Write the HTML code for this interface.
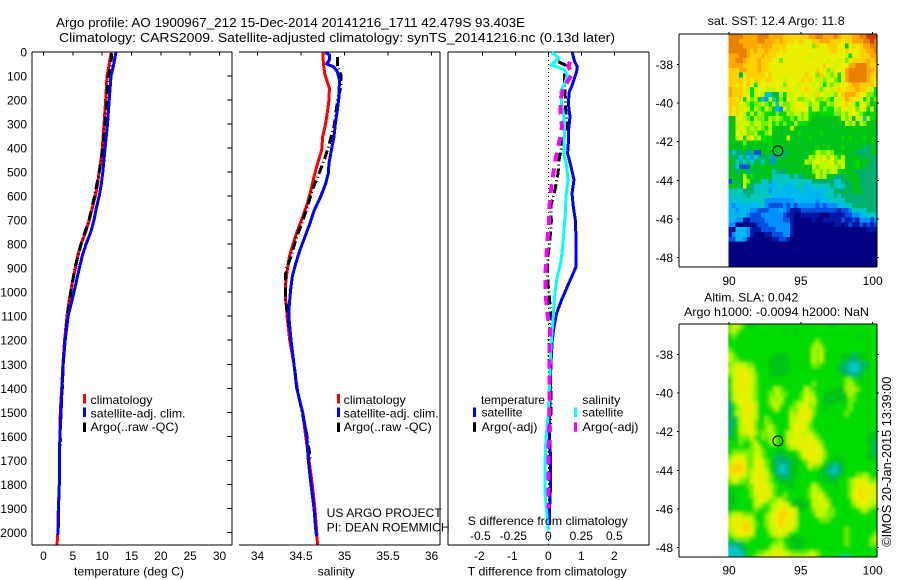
<!DOCTYPE html>
<html>
<head>
<meta charset="utf-8">
<title>Argo profile 1900967_212</title>
<style>
html,body{margin:0;padding:0;background:#fff;width:900px;height:580px;overflow:hidden}
svg{display:block}
text{font-family:"Liberation Sans",sans-serif;font-size:12px;fill:#000}
</style>
</head>
<body>
<svg id="chart" width="900" height="580" viewBox="0 0 900 580" xmlns="http://www.w3.org/2000/svg">
<defs>
<clipPath id="clipSst"><rect x="728.3" y="34" width="148.7" height="233"/></clipPath>
<clipPath id="clipSla"><rect x="728.3" y="324" width="148.7" height="233"/></clipPath>
<filter id="smoothSla" filterUnits="userSpaceOnUse" x="700" y="300" width="200" height="280"><feGaussianBlur stdDeviation="1.6"/></filter>
</defs>
<rect x="0" y="0" width="900" height="580" fill="#fff"/>
<text x="56" y="27" font-size="13" textLength="469" lengthAdjust="spacingAndGlyphs" style="font-size:13px">Argo profile: AO 1900967_212 15-Dec-2014 20141216_1711 42.479S 93.403E</text>
<text x="59" y="42" textLength="556" lengthAdjust="spacingAndGlyphs" style="font-size:13px">Climatology: CARS2009. Satellite-adjusted climatology: synTS_20141216.nc (0.13d later)</text>

<g id="panelTemp"></g>
<g id="panelSal"></g>
<g id="panelDiff"></g>
<g id="mapSst"></g>
<g id="mapSla"></g>

<g>
<rect x="83" y="394" width="3" height="9.5" fill="#f00"/>
<text x="90.5" y="404" textLength="62" lengthAdjust="spacingAndGlyphs">climatology</text>
<rect x="83" y="407.5" width="3" height="9.5" fill="#00f"/>
<text x="90.5" y="417.5" textLength="95" lengthAdjust="spacingAndGlyphs">satellite-adj. clim.</text>
<rect x="83" y="422.5" width="3" height="9.5" fill="#000"/>
<text x="90.5" y="431" textLength="88" lengthAdjust="spacingAndGlyphs">Argo(..raw -QC)</text>
</g>
<g>
<rect x="337" y="394" width="3" height="9.5" fill="#f00"/>
<text x="343.7" y="404" textLength="62" lengthAdjust="spacingAndGlyphs">climatology</text>
<rect x="337" y="407.5" width="3" height="9.5" fill="#00f"/>
<text x="343.7" y="417.5" textLength="95" lengthAdjust="spacingAndGlyphs">satellite-adj. clim.</text>
<rect x="337" y="422.5" width="3" height="9.5" fill="#000"/>
<text x="343.7" y="431" textLength="88" lengthAdjust="spacingAndGlyphs">Argo(..raw -QC)</text>
</g>
<text x="326.7" y="517" textLength="115" lengthAdjust="spacingAndGlyphs">US ARGO PROJECT</text>
<text x="326.7" y="531.7" textLength="123" lengthAdjust="spacingAndGlyphs">PI: DEAN ROEMMICH</text>

<g>
<text x="481" y="404" textLength="64" lengthAdjust="spacingAndGlyphs">temperature</text>
<rect x="473" y="407.5" width="3" height="9.5" fill="#00f"/>
<text x="481.5" y="416.7" textLength="41" lengthAdjust="spacingAndGlyphs">satellite</text>
<rect x="473" y="422.3" width="3" height="9.5" fill="#000"/>
<text x="481.5" y="431" textLength="56" lengthAdjust="spacingAndGlyphs">Argo(-adj)</text>
<text x="582.3" y="404" textLength="38" lengthAdjust="spacingAndGlyphs">salinity</text>
<rect x="574" y="407.5" width="3" height="9.5" fill="#0ff"/>
<text x="582.3" y="416.7" textLength="41" lengthAdjust="spacingAndGlyphs">satellite</text>
<rect x="574" y="422.3" width="3" height="9.5" fill="#f0f"/>
<text x="582.5" y="431" textLength="56" lengthAdjust="spacingAndGlyphs">Argo(-adj)</text>
</g>

<text x="74" y="575.7" textLength="110" lengthAdjust="spacingAndGlyphs">temperature (deg C)</text>
<text x="317.7" y="575.7" textLength="37" lengthAdjust="spacingAndGlyphs">salinity</text>
<text x="467.7" y="525" textLength="160" lengthAdjust="spacingAndGlyphs">S difference from climatology</text>
<text x="467.7" y="575.5" textLength="159" lengthAdjust="spacingAndGlyphs">T difference from climatology</text>

<text x="707.7" y="25" textLength="137" lengthAdjust="spacingAndGlyphs">sat. SST: 12.4 Argo: 11.8</text>
<text x="704.3" y="301.7" textLength="94" lengthAdjust="spacingAndGlyphs">Altim. SLA: 0.042</text>
<text x="684" y="316" textLength="185" lengthAdjust="spacingAndGlyphs">Argo h1000: -0.0094 h2000: NaN</text>
<text transform="translate(891,546.7) rotate(-90)" x="0" y="0" textLength="170" lengthAdjust="spacingAndGlyphs" style="font-size:13px">©IMOS 20-Jan-2015 13:39:00</text>
</svg>

<script>
// ---------- temperature profiles (deg C) ----------
var tempClimDepth = [0,30,80,100,200,300,400,450,500,550,600,650,700,750,800,850,900,950,1000,1030,1100,1200,1300,1400,1500,1600,1700,1800,1900,2000,2050];
var tempClimValue = [11.56,11.33,10.99,10.82,10.6,10.31,10.03,9.8,9.46,9.23,8.83,8.32,7.81,7.19,6.39,5.82,5.43,4.97,4.63,4.4,4.0,3.6,3.3,3.1,2.87,2.8,2.7,2.7,2.53,2.45,2.3];
var tempSatDepth = [0,30,60,100,200,300,400,500,550,600,650,700,750,800,850,900,950,1000,1030,1100,1200,1300,1400,1500,1550,1600,1700,1800,1900,2000,2010];
var tempSatValue = [12.36,12.13,11.9,11.5,11.2,10.9,10.5,10.1,9.85,9.5,9.0,8.6,8.04,7.24,6.6,6.1,5.65,5.2,4.9,4.2,3.7,3.35,3.15,3.0,2.9,2.8,2.7,2.7,2.55,2.5,2.5];
var tempArgoDepth = [5,50,100,200,300,400,500,600,700,800,900,1000,1100,1200,1300,1400,1500,1600,1650];
var tempArgoValue = [11.6,11.5,11.0,10.8,10.5,10.1,9.5,8.7,7.75,6.4,5.35,4.65,4.1,3.65,3.35,3.2,2.9,2.85,2.9];

// ---------- salinity profiles ----------
var salClimDepth = [0,47,89,117,151,200,241,297,352,408,463,519,574,630,686,741,797,852,907,963,1019,1067,1100,1200,1300,1400,1500,1600,1700,1800,1900,2000,2050];
var salClimValue = [34.749,34.757,34.772,34.795,34.826,34.822,34.807,34.784,34.749,34.738,34.692,34.649,34.615,34.573,34.519,34.462,34.412,34.366,34.343,34.324,34.32,34.335,34.34,34.37,34.42,34.45,34.519,34.554,34.592,34.63,34.66,34.68,34.69];
var salSatDepth = [0,12,33,50,61,82,117,186,241,297,352,408,463,505,547,602,658,713,769,824,880,935,991,1067,1100,1200,1300,1400,1500,1600,1700,1800,1900,2000,2015];
var salSatValue = [34.776,34.826,34.826,34.795,34.872,34.918,34.941,34.937,34.918,34.895,34.879,34.849,34.822,34.814,34.784,34.726,34.653,34.603,34.546,34.489,34.439,34.4,34.381,34.362,34.36,34.385,34.42,34.45,34.519,34.565,34.584,34.615,34.649,34.672,34.68];
var salArgoDepth = [20,61,96,144,200,255,311,380,435,505,574,644,713,769,852,907,963,1019,1060,1200,1400,1600,1700];
var salArgoValue = [34.918,34.918,34.96,34.96,34.921,34.9,34.879,34.826,34.78,34.708,34.63,34.575,34.51,34.45,34.385,34.326,34.32,34.32,34.335,34.385,34.455,34.57,34.61];

// ---------- differences from climatology ----------
var diffTSatDepth = [0,19,40,61,82,110,144,165,214,269,325,380,422,477,533,588,644,699,769,894,921,977,1032,1088,1143,1200,1300,1400,1500,1600,1700,1800,1900,1970];
var diffTSatValue = [0.727,0.758,0.798,0.879,0.859,0.788,0.707,0.636,0.606,0.657,0.616,0.606,0.586,0.687,0.778,0.717,0.758,0.818,0.838,0.838,0.758,0.576,0.404,0.253,0.172,0.12,0.08,0.06,0.04,0.04,0.07,0.07,0.04,0.04];
var diffTArgoDepth = [40,54,110,186,234,297,366,442,505,574,637,706,783,838,907,977,1046,1102,1150,1200,1300,1400,1500,1600,1700,1800,1900];
var diffTArgoValue = [0.303,0.505,0.485,0.515,0.525,0.576,0.455,0.333,0.293,0.202,0.081,0.091,0.05,0,-0.03,0,0.05,0.07,0.05,0.02,0.02,0.08,0.08,0.04,0.02,0.05,0.02];
var diffSSatDepth = [0,12,26,40,54,61,75,96,130,165,214,269,325,380,429,471,533,602,672,741,810,880,935,991,1046,1102,1150,1227,1296,1365,1435,1504,1560,1615,1712,1837,1893,1962,1990];
var diffSSatValue = [0.025,0.051,0.081,0.051,0.025,0.063,0.126,0.144,0.126,0.093,0.101,0.119,0.124,0.119,0.119,0.139,0.149,0.134,0.129,0.119,0.109,0.093,0.068,0.053,0.043,0.038,0.03,0.02,0.015,0.01,0.005,0,-0.01,-0.018,-0.025,-0.025,-0.015,-0.005,0];
var diffSArgoDepth = [40,61,89,117,158,200,255,311,373,442,505,574,637,706,776,838,907,977,1040,1102,1150,1300,1400,1500,1600,1700,1800,1900];
var diffSArgoValue = [0.164,0.152,0.184,0.152,0.109,0.093,0.093,0.104,0.083,0.056,0.038,0.02,0.01,0.005,-0.005,-0.013,-0.02,-0.023,-0.015,-0.003,0.013,0.008,0.008,0.01,0.005,0,0,0];

// ---------- tick labels ----------
var depthTicks = [0,100,200,300,400,500,600,700,800,900,1000,1100,1200,1300,1400,1500,1600,1700,1800,1900,2000];
var tempTicks = [0,5,10,15,20,25,30];
var salTicks = [34,34.5,35,35.5,36];
var tDiffTicks = [-2,-1,0,1,2];
var sDiffTicks = [-0.5,-0.25,0,0.25,0.5];
var lonTicks = [90,95,100];
var latTicks = [-38,-40,-42,-44,-46,-48];

// ---------- float position ----------
var floatLon = 93.403;
var floatLat = -42.479;

// ---------- map grids: one character per 0.25-degree cell, colour level 0..f ----------
var mapLevels = ['#000080','#0018a8','#0050e0','#0090ff','#00b8f0','#00c8c0','#00b070','#00c418','#00dc00','#70f000','#c0f800','#e8f000','#ffd000','#ffa800','#e88000','#c84000'];
var sstRows = [
"eeeeddddee eddddccccc ccddeeddde dcccddeeff f",
"eeedddddee dddcdcccbc cbbccdddcc cbccdddeef e",
"eeeeddddcd ddccccbbbb bbb9cbbccc bb7bcbcdde e",
"eeeeedcdcc dcccbcbbbb bbbbbbbbcc bbcbbbccdd e",
"dddeedcccd cccbbbbbbb bbabbbbbbb bba8bbcccd d",
"ddeedcccdc ccbb9bbbbb bbbbbbbabb ab9bccccdc d",
"ddddccccdc cbbbbbbbbb bbbbbbcbba bbbddeeedc c",
"cccddcccdc cbbbbbbbbb bbbbcbb9ab bbdeeeeedd c",
"ccc6bccccc bcbbbbbbbb bcbb9cba9b 8bdeeeeedc c",
"ccccbcbccb ccbbbabbbb cbcbaa9ab9 8bdeeeeedc b",
"ccbcbcb8bb bbbbb9bbba bbbaba8a9b abbcddcccc b",
"dcccba8abb aaababbbab bcbba9abab cbcccdccba 8",
"dcccbb8aba 5576a8aabb abbacbaaa9 bcdddcbb99 8",
"ccbc8b9a74 3a5797bab9 9aab99a98b abdcbbb8a8 9",
"cccba9899a 98a5a99abb ba9aa88a9a bbcba8bb97 8",
"cbcaba8a98 a9743a9abb bb8aa8988a 9bbab9bb8a 7",
"cbcba8a8a9 887988a9aa 9a88788889 9a9bba9878 8",
"77bba98a99 8a9a98898a 9a87777777 8a9a7ba5a8 7",
"77baba9aa9 9a898988a8 8877777777 77a9a7a977 7",
"77aba9a9a9 8a87777a77 7777777777 7777777777 7",
"77bab99a88 9a77777778 7777787777 7777777777 7",
"77ab8cb9a8 887777a777 7787777777 7878777877 7",
"7777977877 7877777777 7777777777 7777777777 7",
"7777877777 7877777777 7777877877 7877777667 6",
"6566736227 7767667777 7778a99a97 7777766667 7",
"7665653566 6637677777 77a9aab9b9 8a77777676 6",
"7756565765 7637777777 7a9abaaab9 aa77787776 6",
"7652227777 7777777777 777a9aaaaa 9a77787766 6",
"7767767677 7756667777 7779a9a9aa 8777766666 6",
"7777a78777 7755555656 6777a9a776 6677776666 6",
"2767a97675 5645555555 5556666665 5667776666 6",
"7776a76554 5444544455 5445555565 5566776666 6",
"5555666555 5354444444 5444444556 6676777666 6",
"5555565555 5544444444 4444445556 5666666666 6",
"4545555555 3333333344 4444344455 5566666666 6",
"4344444445 3222232323 3333232333 4455666666 6",
"4434443322 2333432111 2222222222 1223555566 6",
"4444432223 3333321100 1111100011 1122334455 5",
"4433112222 3333322100 0001001111 1211213332 3",
"3300000122 2333333100 0000000001 1012112121 2",
"1044431112 2223333100 0000000000 0000000011 1",
"1344431000 1122233100 0000000000 0000000000 0",
"2244310000 0011221000 0000000000 0000000000 0",
"0000000000 0000000000 0000000000 0000000000 0",
"0000000000 0000000000 0000000000 0000000000 0",
"0000000000 0000000000 0000000000 0000000000 0",
"0000000000 0000000000 0000000000 0000000000 0",
"0000000000 0000000000 0000000000 0000000000 0",
"0000000000 0000000000 0000000000 0000000000 0"
];
var slaRows = [
"9aa9887888 8888888888 8888888878 8888888888 8",
"9a98888888 8888878878 8888888888 8888888888 8",
"8988888888 8888888888 8888888888 8888887888 8",
"8888888888 8888888888 8888988888 8888888888 8",
"8888888888 8888888888 8889a98888 8888888888 8",
"9888888888 8888888888 888a9a8888 8888888888 8",
"a988888888 8877778888 888a9a8888 8777677788 8",
"a998888888 8777777888 888a9a8888 8776667788 8",
"9aaaa99888 8777777888 8889988888 7665556678 8",
"aabbbaa888 8877777888 8888888888 7665556788 8",
"9abbbba988 8777778888 8888888888 8776667888 8",
"8abbbbb988 8888888888 8888888888 8899887888 8",
"8abbbba988 8888888888 8889888888 889a988888 8",
"8abbbba988 889a988888 8a98888887 77a9a98888 8",
"7aabbba988 899a998888 9aa9887777 778a988888 8",
"7abbbba988 89a9a88888 9baa887777 7789988888 8",
"68abbbba88 89aa98889a ab9a887778 8889888888 8",
"689abbba88 889a88899a bba9887888 8889888888 8",
"68aabbba88 8888888a9b bbb9888888 8898888888 8",
"768abbaa88 9888888aab bba8888888 8888888888 8",
"668abbb988 9988888aab ba98888888 8888888888 8",
"678aabb988 9a98888abb ba98888888 8888888888 8",
"678aabba89 9a9888aabb aaa9888888 8888888887 7",
"778999a889 99a888aabb abba988888 8888888877 7",
"8889889a88 89a888abbb bbbba98888 8888888877 6",
"8888889aa8 8888889aab bbbbba8888 8888888887 6",
"8999999aa9 8887778889 abbbbb9888 8888888877 6",
"9abba99ab9 8876677788 abbbba9887 7888888877 7",
"abbbb99bba 9876666778 89bbba8877 7788888888 7",
"acccb99bba 9876556778 88a9987665 6788888888 8",
"bcccb9abbb a876556778 8888877655 6788888888 8",
"abbba9abbb b987666778 8888877766 7888899a98 8",
"9ba998bbbb a988777788 8888878777 8889abbba9 9",
"8888899bbb ba98887788 888a988887 8889abbbbb a",
"7888889bbb ba98888888 889aa98888 8889abcbbb a",
"7788889abb bb98898888 889aab9888 8889bbcbbb a",
"7788888abb a99aa98877 788aaba988 8888abbbba a",
"7788888aa9 89aabba877 778aaaba88 88889abbaa 9",
"7888888988 89abbcbba7 7889aaa998 8888889a98 8",
"9aaa999888 9abbccbba8 8888aaa998 8888888888 8",
"abbbbba888 9abbcbbba8 8888899988 8888888888 8",
"abbbcca988 9abbcbbba8 8888888888 8888888888 8",
"abbbccb888 8aabbbba98 8888888888 8898888888 8",
"9abbbba888 89abba9888 8888888888 8898888888 9",
"8899998888 8889988777 7888888888 8898888889 a",
"6666888888 8899a88777 7888888888 8898888889 9",
"5556788888 89aaa98877 8888888888 8888888888 8",
"5555688899 aabbbaa999 99aa988888 8888888888 8",
"5555688aab bbbbbbbbaa abbb988887 6548888888 8"
];

// ---------- axis functions ----------
function depthY(d){ return 52 + d * 0.2402; }
function tempX(t){ return 43.5 + t * 5.867; }
function salX(s){ return 257.5 + (s - 34) * 87; }
function tDiffX(v){ return 548.3 + v * 33; }
function sDiffX(v){ return 548.3 + v * 132; }
function lonX(lon){ return 729 + (lon - 90) * 14.37; }
function sstLatY(lat){ return 64.3 + (-38 - lat) * 19.33; }
function slaLatY(lat){ return 354.3 + (-38 - lat) * 19.33; }

var NS = 'http://www.w3.org/2000/svg';

function segment(parent, name, x1, y1, x2, y2){
  var el = document.createElementNS(NS, 'line');
  
  
  el.setAttribute('x1', x1);
  el.setAttribute('y1', y1);
  el.setAttribute('x2', x2);
  el.setAttribute('y2', y2);
  el.setAttribute('stroke', '#000');
  el.setAttribute('stroke-width', '1');
  el.setAttribute('shape-rendering', 'crispEdges');
  parent.appendChild(el);
}

function label(parent, name, x, y, str, anchor){
  var el = document.createElementNS(NS, 'text');
  
  
  el.setAttribute('x', x);
  el.setAttribute('y', y);
  el.setAttribute('text-anchor', anchor);
  el.textContent = str;
  parent.appendChild(el);
}

function profile(parent, name, depths, values, xFn, color, width, dash){
  var pts = [];
  for (var i = 0; i < depths.length; i++) {
    pts.push(xFn(values[i]).toFixed(1) + ',' + depthY(depths[i]).toFixed(1));
  }
  var el = document.createElementNS(NS, 'polyline');
  
  
  el.setAttribute('points', pts.join(' '));
  el.setAttribute('fill', 'none');
  el.setAttribute('stroke', color);
  el.setAttribute('stroke-width', width);
  el.setAttribute('shape-rendering', 'crispEdges');
  if (dash) { el.setAttribute('stroke-dasharray', dash); }
  parent.appendChild(el);
}

function heatmap(parent, name, rows, top, clipId, filterId){
  var clipGroup = document.createElementNS(NS, 'g');
  
  
  clipGroup.setAttribute('clip-path', 'url(#' + clipId + ')');
  var g = document.createElementNS(NS, 'g');
  
  
  if (filterId) { g.setAttribute('filter', 'url(#' + filterId + ')'); }
  var lonStart = 89.95, lonStep = 0.2533, rowH = 4.83, pad = filterId ? 12 : 0;
  for (var r = 0; r < rows.length; r++) {
    var cells = rows[r].replace(/ /g, '');
    for (var c = 0; c < cells.length; c++) {
      var x0 = lonX(lonStart + c * lonStep);
      var x1 = lonX(lonStart + (c + 1) * lonStep);
      var y0 = top + r * rowH;
      var y1 = y0 + rowH;
      if (c === 0) { x0 -= pad; }
      if (c === cells.length - 1) { x1 += pad + 2; }
      if (r === 0) { y0 -= pad; }
      if (r === rows.length - 1) { y1 += pad; }
      var cell = document.createElementNS(NS, 'rect');
      
      
      cell.setAttribute('x', x0.toFixed(2));
      cell.setAttribute('y', y0.toFixed(2));
      cell.setAttribute('width', (x1 - x0 + 0.4).toFixed(2));
      cell.setAttribute('height', (y1 - y0 + 0.4).toFixed(2));
      cell.setAttribute('fill', mapLevels[parseInt(cells.charAt(c), 16)]);
      cell.setAttribute('shape-rendering', 'crispEdges');
      g.appendChild(cell);
    }
  }
  clipGroup.appendChild(g);
  parent.appendChild(clipGroup);
}

// ---------- temperature panel ----------
var pT = document.getElementById('panelTemp');
segment(pT, 'panel-border-left', 32, 52, 32, 545);
segment(pT, 'panel-border-right', 232, 52, 232, 545);
segment(pT, 'panel-border-top', 32, 52, 232, 52);
segment(pT, 'panel-border-bottom', 32, 545, 232, 545);
depthTicks.forEach(function(d){
  segment(pT, 'depth-tick', 227, depthY(d), 232, depthY(d));
  label(pT, 'depth-tick-label', 27, depthY(d) + 4.5, String(d), 'end');
});
tempTicks.forEach(function(t){
  segment(pT, 'temperature-tick', tempX(t), 52, tempX(t), 55.5);
  label(pT, 'temperature-tick-label', tempX(t), 560, String(t), 'middle');
});
profile(pT, 'temperature-climatology-line', tempClimDepth, tempClimValue, tempX, '#f00', 3, null);
profile(pT, 'temperature-argo-line', tempArgoDepth, tempArgoValue, tempX, '#000', 3, '9 3 1 3');
profile(pT, 'temperature-satellite-line', tempSatDepth, tempSatValue, tempX, '#00f', 3, null);

// ---------- salinity panel ----------
var pS = document.getElementById('panelSal');
segment(pS, 'panel-border-right', 440, 52, 440, 545);
segment(pS, 'panel-border-top', 239, 52, 440, 52);
segment(pS, 'panel-border-bottom', 239, 545, 440, 545);
salTicks.forEach(function(s){
  segment(pS, 'salinity-tick', salX(s), 52, salX(s), 55.5);
  label(pS, 'salinity-tick-label', salX(s), 560, String(s), 'middle');
});
profile(pS, 'salinity-climatology-line', salClimDepth, salClimValue, salX, '#f00', 3, null);
profile(pS, 'salinity-argo-line', salArgoDepth, salArgoValue, salX, '#000', 3, '9 3 1 3');
profile(pS, 'salinity-satellite-line', salSatDepth, salSatValue, salX, '#00f', 3, null);

// ---------- difference panel ----------
var pD = document.getElementById('panelDiff');
segment(pD, 'panel-border-left', 448, 52, 448, 545);
segment(pD, 'panel-border-right', 649, 52, 649, 545);
segment(pD, 'panel-border-top', 448, 52, 649, 52);
segment(pD, 'panel-border-bottom', 448, 545, 649, 545);
tDiffTicks.forEach(function(v){
  segment(pD, 't-difference-tick', tDiffX(v), 52, tDiffX(v), 55.5);
  label(pD, 't-difference-tick-label', tDiffX(v) - (v < 0 ? 3 : 0), 560, String(v), 'middle');
});
sDiffTicks.forEach(function(v){
  label(pD, 's-difference-tick-label', sDiffX(v) - (v < 0 ? 2 : 0), 540, String(v), 'middle');
});
var zeroLine = document.createElementNS(NS, 'line');


zeroLine.setAttribute('x1', tDiffX(0));
zeroLine.setAttribute('y1', 52);
zeroLine.setAttribute('x2', tDiffX(0));
zeroLine.setAttribute('y2', 545);
zeroLine.setAttribute('stroke', '#000');
zeroLine.setAttribute('stroke-width', '1');
zeroLine.setAttribute('stroke-dasharray', '1 3');
zeroLine.setAttribute('shape-rendering', 'crispEdges');
pD.appendChild(zeroLine);
profile(pD, 't-difference-satellite-line', diffTSatDepth, diffTSatValue, tDiffX, '#00f', 3, null);
profile(pD, 't-difference-argo-line', diffTArgoDepth, diffTArgoValue, tDiffX, '#000', 3, '9 3 1 3');
profile(pD, 's-difference-satellite-line', diffSSatDepth, diffSSatValue, sDiffX, '#0ff', 3, null);
profile(pD, 's-difference-argo-line', diffSArgoDepth, diffSArgoValue, sDiffX, '#f0f', 4, '9 7');

// ---------- maps ----------
function drawMap(parent, rows, top, clipId, filterId, latFn, labelY, mapName){
  var bottom = top + 233;
  heatmap(parent, mapName + '-cells', rows, top, clipId, filterId);
  segment(parent, 'map-border-left', 679, top, 679, bottom);
  segment(parent, 'map-border-right', 877, top, 877, bottom);
  segment(parent, 'map-border-top', 679, top, 877, top);
  segment(parent, 'map-border-bottom', 679, bottom, 877, bottom);
  lonTicks.forEach(function(lon){
    segment(parent, 'longitude-tick', lonX(lon), top - 2, lonX(lon), top);
    label(parent, 'longitude-tick-label', lonX(lon), labelY, String(lon), 'middle');
  });
  latTicks.forEach(function(lat){
    segment(parent, 'latitude-tick-left', 677, latFn(lat), 679, latFn(lat));
    segment(parent, 'latitude-tick-right', 877, latFn(lat), 879, latFn(lat));
    label(parent, 'latitude-tick-label', 673, latFn(lat) + 4.5, String(lat), 'end');
  });
  var ring = document.createElementNS(NS, 'circle');
  
  
  ring.setAttribute('cx', lonX(floatLon));
  ring.setAttribute('cy', latFn(floatLat));
  ring.setAttribute('r', '5');
  ring.setAttribute('fill', 'none');
  ring.setAttribute('stroke', '#000');
  ring.setAttribute('stroke-width', '1');
  parent.appendChild(ring);
}
drawMap(document.getElementById('mapSst'), sstRows, 34, 'clipSst', null, sstLatY, 285, 'sst');
drawMap(document.getElementById('mapSla'), slaRows, 324, 'clipSla', 'smoothSla', slaLatY, 574.3, 'sla');
</script>
</body>
</html>
